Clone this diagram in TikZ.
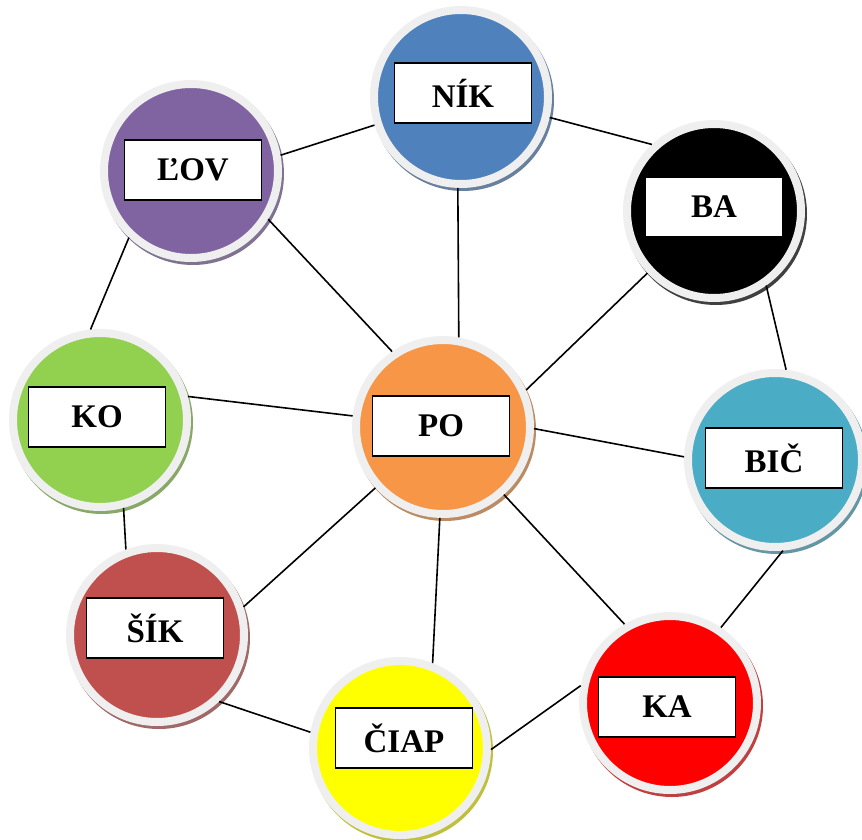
\documentclass[tikz,border=0pt]{standalone}
\usepackage{fontspec}
\setmainfont{Liberation Serif}
\usetikzlibrary{positioning}
\definecolor{cnik}{HTML}{4F81BD}
\definecolor{clov}{HTML}{8064A2}
\definecolor{cko}{HTML}{92D050}
\definecolor{cpo}{HTML}{F79646}
\definecolor{cbic}{HTML}{4BACC6}
\definecolor{csik}{HTML}{C0504D}
\definecolor{cciap}{HTML}{FFFF00}
\definecolor{cka}{HTML}{FF0000}
\definecolor{ring}{HTML}{EFEFEF}
\begin{document}
\begin{tikzpicture}[
    x=1pt, y=-1pt,
    blob/.style={circle, minimum size=174pt, line width=8pt,
                 draw=ring, fill=#1,
                 preaction={draw=#1!50!gray, fill=#1!50!gray,
                            transform canvas={xshift=2pt, yshift=-3pt}}},
    lbl/.style={draw, line width=1.6pt, fill=white,
                minimum width=137pt, minimum height=60pt,
                font=\fontsize{33}{36}\selectfont\bfseries},
    lnk/.style={line width=1.6pt}
]
\useasboundingbox (0,0) rectangle (862,840);

% cercles
\node[blob=cnik]  (nik)  at (461, 97) {};
\node[blob=clov]  (lov)  at (191,171) {};
\node[blob=black] (ba)   at (714,211) {};
\node[blob=cko]   (ko)   at (100,420) {};
\node[blob=cpo]   (po)   at (443,427) {};
\node[blob=cbic]  (bic)  at (775,460) {};
\node[blob=csik]  (sik)  at (157,635) {};
\node[blob=cciap] (ciap) at (400,748) {};
\node[blob=cka]   (ka)   at (670,703) {};

% etiquettes
\node[lbl] (tnik)  at (463, 93) {NÍK};
\node[lbl] (tlov)  at (193,170) {ĽOV};
\node[lbl] (tba)   at (714,207) {BA};
\node[lbl] (tko)   at ( 97,417) {KO};
\node[lbl] (tpo)   at (441,426) {PO};
\node[lbl] (tbic)  at (774,458) {BIČ};
\node[lbl] (tsik)  at (155,628) {ŠÍK};
\node[lbl] (tciap) at (404,738) {ČIAP};
\node[lbl] (tka)   at (667,707) {KA};

% spojenia
\draw[lnk] (lov.10)   -- (nik.-162);
\draw[lnk] (nik.-13)  -- (ba.133);
\draw[lnk] (nik.-92)  -- (po.80);
\draw[lnk] (lov.-32)  -- (po.124);
\draw[lnk] (lov.-133) -- (ko.96);
\draw[lnk] (ba.-137)  -- (po.24);
\draw[lnk] (ba.-55)   -- (bic.83);
\draw[lnk] (ko.15)    -- (po.173);
\draw[lnk] (po.-1)    -- (bic.178);
\draw[lnk] (ko.-75)   -- (sik.110);
\draw[lnk] (po.-138)  -- (sik.18);
\draw[lnk] (po.-92)   -- (ciap.69);
\draw[lnk] (po.-48)   -- (ka.120);
\draw[lnk] (bic.-85)  -- (ka.56);
\draw[lnk] (sik.-47)  -- (ciap.170);
\draw[lnk] (ciap.-1)  -- (ka.169);
\end{tikzpicture}
\end{document}
